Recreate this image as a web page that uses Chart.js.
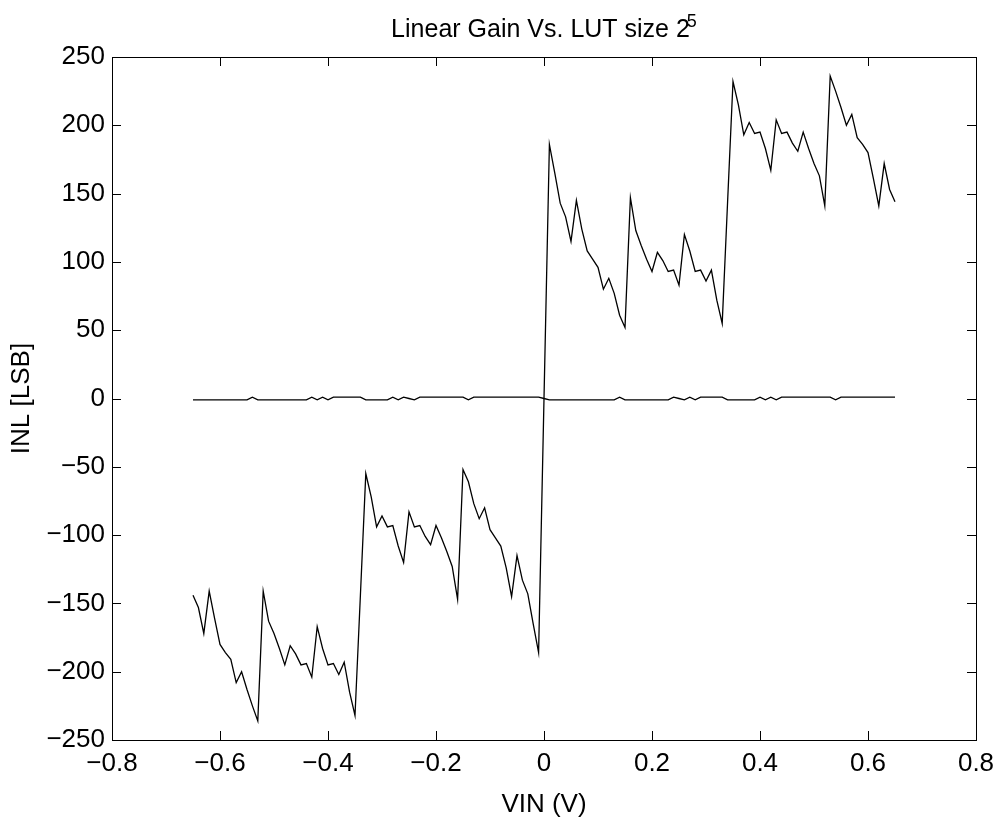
<!DOCTYPE html>
<html>
<head>
<meta charset="utf-8">
<title>Linear Gain Vs. LUT size</title>
<script src="https://cdn.jsdelivr.net/npm/chart.js@4.4.1/dist/chart.umd.min.js"></script>
<style>
    html, body { margin: 0; padding: 0; background: #fff; }
    #wrap { width: 1003px; height: 827px; }
</style>
</head>
<body>
<div id="wrap"><canvas id="myChart" width="1003" height="827"></canvas></div>
<script>
// input voltage samples (V)
const vin = [
    -0.65, -0.64, -0.63, -0.62, -0.61, -0.60, -0.59, -0.58, -0.57, -0.56,
    -0.55, -0.54, -0.53, -0.52, -0.51, -0.50, -0.49, -0.48, -0.47, -0.46,
    -0.45, -0.44, -0.43, -0.42, -0.41, -0.40, -0.39, -0.38, -0.37, -0.36,
    -0.35, -0.34, -0.33, -0.32, -0.31, -0.30, -0.29, -0.28, -0.27, -0.26,
    -0.25, -0.24, -0.23, -0.22, -0.21, -0.20, -0.19, -0.18, -0.17, -0.16,
    -0.15, -0.14, -0.13, -0.12, -0.11, -0.10, -0.09, -0.08, -0.07, -0.06,
    -0.05, -0.04, -0.03, -0.02, -0.01, 0,
    0.01, 0.02, 0.03, 0.04, 0.05, 0.06, 0.07, 0.08, 0.09, 0.10,
    0.11, 0.12, 0.13, 0.14, 0.15, 0.16, 0.17, 0.18, 0.19, 0.20,
    0.21, 0.22, 0.23, 0.24, 0.25, 0.26, 0.27, 0.28, 0.29, 0.30,
    0.31, 0.32, 0.33, 0.34, 0.35, 0.36, 0.37, 0.38, 0.39, 0.40,
    0.41, 0.42, 0.43, 0.44, 0.45, 0.46, 0.47, 0.48, 0.49, 0.50,
    0.51, 0.52, 0.53, 0.54, 0.55, 0.56, 0.57, 0.58, 0.59, 0.60,
    0.61, 0.62, 0.63, 0.64, 0.65
];

// INL before correction (LSB)
const inlRaw = [
    -144, -153, -172, -141, -161, -180, -186, -191, -208, -200,
    -213, -225, -236, -141, -163, -172, -183, -195, -181, -187,
    -195, -194, -204, -167, -183, -195, -194, -202, -193, -215,
    -232, -144, -55, -72, -94, -86, -94, -93, -108, -120,
    -83, -94, -93, -101, -107, -93, -102, -112, -123, -147,
    -52, -61, -77, -88, -80, -96, -102, -108, -124, -145,
    -115, -133, -143, -165, -186, 0,
    186, 165, 143, 133, 115, 145, 124, 108, 102, 96,
    80, 88, 77, 61, 52, 147, 123, 112, 102, 93,
    107, 101, 93, 94, 83, 120, 108, 93, 94, 86,
    94, 72, 55, 144, 232, 215, 193, 202, 194, 195,
    183, 167, 204, 194, 195, 187, 181, 195, 183, 172,
    163, 141, 236, 225, 213, 200, 208, 191, 186, 180,
    161, 141, 172, 153, 144
];

// INL after linear gain correction (LSB)
const inlCorr = [
    -1, -1, -1, -1, -1, -1, -1, -1, -1, -1,
    -1, 1, -1, -1, -1, -1, -1, -1, -1, -1,
    -1, -1, 1, -1, 1, -1, 1, 1, 1, 1,
    1, 1, -1, -1, -1, -1, -1, 1, -1, 1,
    0, -1, 1, 1, 1, 1, 1, 1, 1, 1,
    1, -1, 1, 1, 1, 1, 1, 1, 1, 1,
    1, 1, 1, 1, 1, 0,
    -1, -1, -1, -1, -1, -1, -1, -1, -1, -1,
    -1, -1, -1, 1, -1, -1, -1, -1, -1, -1,
    -1, -1, -1, 1, 0, -1, 1, -1, 1, 1,
    1, 1, 1, -1, -1, -1, -1, -1, -1, 1,
    -1, 1, -1, 1, 1, 1, 1, 1, 1, 1,
    1, 1, 1, -1, 1, 1, 1, 1, 1, 1,
    1, 1, 1, 1, 1
];

const titleText = 'Linear Gain Vs. LUT size 2';
const titleSup = '5';
const xLabel = 'VIN (V)';
const yLabel = 'INL [LSB]';

const FONT = '"Liberation Sans", Arial, Helvetica, sans-serif';

function fmtTick(v, dec) {
    if (Math.abs(v) < 1e-9) return '0';
    return (v < 0 ? '\u2212' : '') + Math.abs(v).toFixed(dec);
}

// axes box, inward ticks on all four sides, and the title with superscript
const matlabAxes = {
    id: 'matlabAxes',
    afterDraw(chart) {
        const ctx = chart.ctx;
        const a = chart.chartArea;
        const xs = chart.scales.x;
        const ys = chart.scales.y;
        const tl = 9;
        ctx.save();
        ctx.strokeStyle = '#000';
        ctx.lineWidth = 1;
        ctx.beginPath();
        xs.ticks.forEach(t => {
            const px = Math.round(xs.getPixelForValue(t.value)) + 0.5;
            ctx.moveTo(px, a.bottom); ctx.lineTo(px, a.bottom - tl);
            ctx.moveTo(px, a.top); ctx.lineTo(px, a.top + tl);
        });
        ys.ticks.forEach(t => {
            const py = Math.round(ys.getPixelForValue(t.value)) + 0.5;
            ctx.moveTo(a.left, py); ctx.lineTo(a.left + tl, py);
            ctx.moveTo(a.right, py); ctx.lineTo(a.right - tl, py);
        });
        ctx.stroke();
        ctx.strokeRect(Math.round(a.left) + 0.5, Math.round(a.top) + 0.5,
            Math.round(a.right - a.left), Math.round(a.bottom - a.top));

        // title
        ctx.fillStyle = '#000';
        ctx.textBaseline = 'alphabetic';
        ctx.font = '25px ' + FONT;
        const w1 = ctx.measureText(titleText).width;
        ctx.font = '18px ' + FONT;
        const w2 = ctx.measureText(titleSup).width;
        const cx = (a.left + a.right) / 2;
        const x0 = cx - (w1 + w2 - 3) / 2;
        ctx.font = '25px ' + FONT;
        ctx.textAlign = 'left';
        ctx.fillText(titleText, x0, 37);
        ctx.font = '18px ' + FONT;
        ctx.fillText(titleSup, x0 + w1 - 3, 27);
        ctx.restore();
    }
};

document.addEventListener('DOMContentLoaded', function() {
    var ctx = document.getElementById('myChart').getContext('2d');
    Chart.defaults.font.family = FONT;
    Chart.defaults.font.size = 26;
    Chart.defaults.color = '#000';

    var myChart = new Chart(ctx, {
        type: 'line',
        data: {
            datasets: [{
                label: 'before',
                data: vin.map((v, i) => ({ x: v, y: inlRaw[i] })),
                borderColor: '#000',
                borderWidth: 1.3,
                pointRadius: 0,
                tension: 0
            }, {
                label: 'after',
                data: vin.map((v, i) => ({ x: v, y: inlCorr[i] })),
                borderColor: '#000',
                borderWidth: 1.3,
                pointRadius: 0,
                tension: 0
            }]
        },
        options: {
            responsive: false,
            devicePixelRatio: 1,
            animation: false,
            layout: {
                padding: { top: 57, bottom: 0, left: 0, right: 27 }
            },
            plugins: {
                legend: { display: false },
                title: { display: false },
                tooltip: { enabled: false }
            },
            scales: {
                x: {
                    type: 'linear',
                    min: -0.8,
                    max: 0.8,
                    grid: { display: false, drawTicks: false },
                    border: { display: false },
                    ticks: {
                        stepSize: 0.2,
                        padding: 8,
                        maxRotation: 0,
                        callback: v => fmtTick(v, 1)
                    },
                    title: {
                        display: true,
                        text: xLabel,
                        padding: { top: 0, bottom: 7 }
                    },
                    afterFit: s => { s.height = 87; }
                },
                y: {
                    type: 'linear',
                    min: -250,
                    max: 250,
                    grid: { display: false, drawTicks: false },
                    border: { display: false },
                    ticks: {
                        stepSize: 50,
                        padding: 7,
                        callback: v => fmtTick(v, 0)
                    },
                    title: {
                        display: true,
                        text: yLabel,
                        padding: { top: 6, bottom: 0 }
                    },
                    afterFit: s => { s.width = 112; }
                }
            }
        },
        plugins: [matlabAxes]
    });
});
</script>
</body>
</html>
